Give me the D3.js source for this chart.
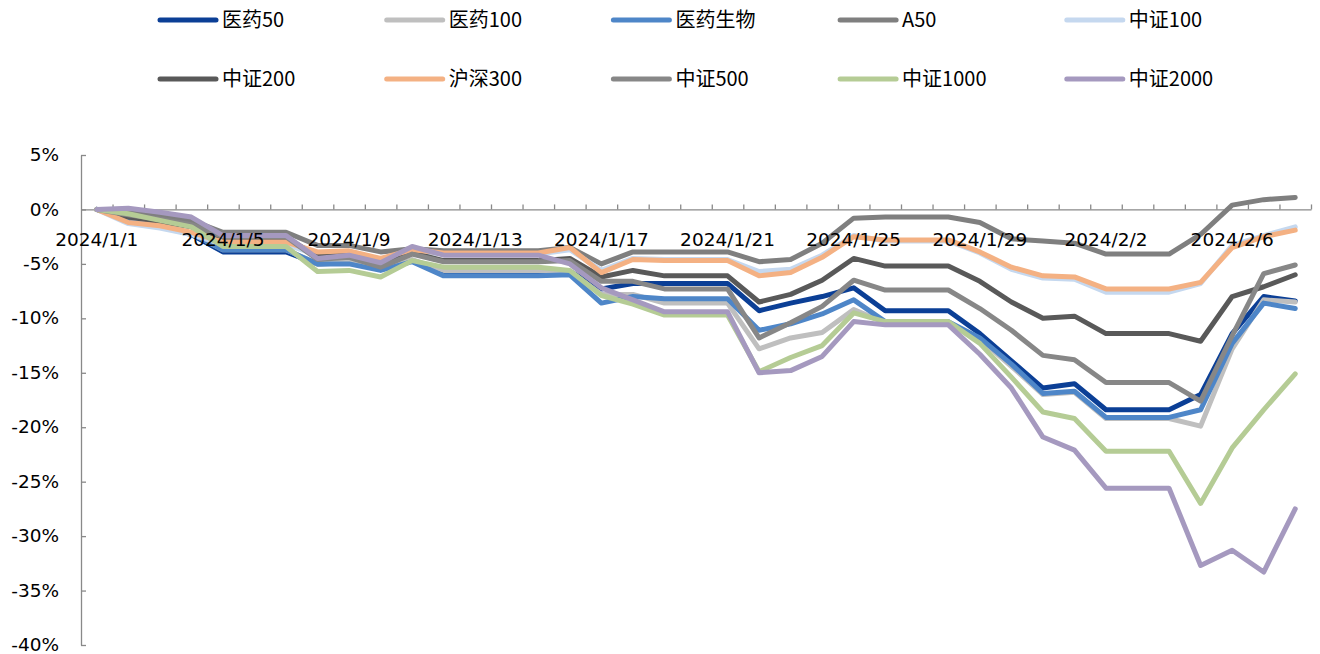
<!DOCTYPE html>
<html>
<head>
<meta charset="utf-8">
<script src="https://cdn.jsdelivr.net/npm/d3@7"></script>
<style>
  body { margin: 0; background: #fff; }
  svg { display: block; }
  .axis path, .axis line { stroke: #898989; stroke-width: 1.3; }
  .axis text { font-family: "DejaVu Sans", Verdana, sans-serif; font-size: 18.5px; fill: #000; }
  .legend text { font-family: "Noto Sans CJK SC", sans-serif; font-size: 20px; fill: #000; }
</style>
</head>
<body>
<svg id="chart" width="1320" height="654"></svg>
<script>
"use strict";

// ==========================
// data
// ==========================
var dates = ["2024/1/1","2024/1/2","2024/1/3","2024/1/4","2024/1/5","2024/1/6","2024/1/7","2024/1/8","2024/1/9","2024/1/10",
  "2024/1/11","2024/1/12","2024/1/13","2024/1/14","2024/1/15","2024/1/16","2024/1/17","2024/1/18","2024/1/19","2024/1/20",
  "2024/1/21","2024/1/22","2024/1/23","2024/1/24","2024/1/25","2024/1/26","2024/1/27","2024/1/28","2024/1/29","2024/1/30",
  "2024/1/31","2024/2/1","2024/2/2","2024/2/3","2024/2/4","2024/2/5","2024/2/6","2024/2/7","2024/2/8"];

var seriesNames = ["医药50","医药100","医药生物","A50","中证100","中证200","沪深300","中证500","中证1000","中证2000"];
var seriesColors = ["#0b3f96","#bfbfbf","#4e86c8","#7f7f7f","#c5d8ef","#595959","#f4b183","#878787","#b5cc95","#a599bf"];

var yy50 = [0,-1.0,-1.5,-2.3,-3.9,-3.9,-3.9,-5.0,-4.9,-5.5,-4.7,-5.8,-5.8,-5.8,-5.8,-5.7,-7.3,-6.8,-6.8,-6.8,
  -6.8,-9.3,-8.6,-8.0,-7.2,-9.3,-9.3,-9.3,-11.4,-13.9,-16.4,-16.0,-18.4,-18.4,-18.4,-17.0,-11.4,-8.0,-8.4];
var yy100 = [0,-1.0,-1.5,-2.2,-3.7,-3.7,-3.7,-5.0,-4.8,-5.5,-4.6,-5.6,-5.6,-5.6,-5.6,-5.7,-7.8,-7.8,-8.6,-8.6,
  -8.6,-12.8,-11.8,-11.3,-9.2,-10.4,-10.4,-10.4,-11.9,-14.4,-17.0,-16.8,-19.2,-19.2,-19.2,-19.9,-12.8,-8.3,-8.5];
var yysw = [0,-1.0,-1.5,-2.2,-3.7,-3.7,-3.7,-5.0,-5.0,-5.6,-4.8,-6.1,-6.1,-6.1,-6.1,-6.0,-8.6,-8.0,-8.2,-8.2,
  -8.2,-11.1,-10.5,-9.6,-8.3,-10.3,-10.3,-10.3,-11.8,-14.2,-16.9,-16.7,-19.1,-19.1,-19.1,-18.4,-12.3,-8.6,-9.1];
var a50 = [0,-0.3,-0.6,-1.0,-2.1,-2.1,-2.1,-3.3,-3.3,-3.9,-3.6,-3.8,-3.8,-3.8,-3.8,-3.5,-5.0,-3.9,-3.9,-3.9,
  -3.9,-4.8,-4.6,-3.1,-0.8,-0.7,-0.7,-0.7,-1.2,-2.7,-2.9,-3.1,-4.1,-4.1,-4.1,-2.3,0.4,0.9,1.1];
var zz100 = [0,-1.3,-1.7,-2.3,-3.2,-3.2,-3.2,-4.2,-4.0,-4.6,-3.8,-4.1,-4.1,-4.1,-4.1,-3.7,-5.6,-4.5,-4.6,-4.6,
  -4.6,-5.7,-5.5,-4.2,-2.4,-2.9,-2.9,-2.9,-4.0,-5.5,-6.3,-6.4,-7.6,-7.6,-7.6,-6.8,-3.3,-2.4,-1.6];
var zz200 = [0,-0.7,-1.1,-1.6,-2.6,-2.6,-2.6,-4.3,-4.1,-5.0,-4.0,-4.7,-4.7,-4.7,-4.7,-4.5,-6.2,-5.6,-6.1,-6.1,
  -6.1,-8.5,-7.8,-6.5,-4.5,-5.2,-5.2,-5.2,-6.6,-8.5,-10.0,-9.8,-11.4,-11.4,-11.4,-12.1,-8.0,-7.1,-6.0];
var hs300 = [0,-1.2,-1.5,-2.1,-3.0,-3.0,-3.0,-3.9,-3.8,-4.5,-3.7,-4.0,-4.0,-4.0,-4.0,-3.5,-5.8,-4.6,-4.7,-4.7,
  -4.7,-6.1,-5.8,-4.4,-2.5,-2.8,-2.8,-2.8,-3.9,-5.3,-6.1,-6.2,-7.3,-7.3,-7.3,-6.7,-3.5,-2.5,-1.9];
var zz500 = [0,-0.5,-0.9,-1.4,-2.5,-2.5,-2.5,-4.6,-4.4,-5.3,-4.1,-4.8,-4.8,-4.8,-4.8,-4.7,-6.6,-6.6,-7.3,-7.3,
  -7.3,-11.8,-10.4,-8.9,-6.5,-7.4,-7.4,-7.4,-9.1,-11.1,-13.4,-13.8,-15.9,-15.9,-15.9,-17.6,-11.6,-5.9,-5.1];
var zz1000 = [0,-0.4,-1.0,-1.6,-3.4,-3.4,-3.4,-5.7,-5.6,-6.2,-4.7,-5.3,-5.3,-5.3,-5.3,-5.6,-7.9,-8.7,-9.7,-9.7,
  -9.7,-14.9,-13.6,-12.5,-9.5,-10.3,-10.3,-10.3,-12.3,-15.4,-18.6,-19.2,-22.2,-22.2,-22.2,-27.0,-21.9,-18.4,-15.1];
var zz2000 = [0,0.1,-0.25,-0.7,-2.4,-2.4,-2.4,-4.5,-4.2,-4.9,-3.4,-4.2,-4.2,-4.2,-4.2,-5.0,-7.2,-8.3,-9.4,-9.4,
  -9.4,-15.0,-14.8,-13.5,-10.3,-10.6,-10.6,-10.6,-13.3,-16.4,-20.9,-22.1,-25.6,-25.6,-25.6,-32.7,-31.3,-33.3,-27.5];

var seriesValues = [yy50, yy100, yysw, a50, zz100, zz200, hs300, zz500, zz1000, zz2000];
var yTicks = [5,0,-5,-10,-15,-20,-25,-30,-35,-40];
var xLabelDates = dates.filter(function (d, i) { return i % 4 === 0; });

// ==========================
// chart
// ==========================
var svg = d3.select("#chart"),
    plotLeft = 81, plotRight = 1311, plotTop = 155, plotBottom = 645;

var x = d3.scaleBand().domain(dates).range([plotLeft, plotRight]),
    y = d3.scaleLinear().domain([-40, 5]).range([plotBottom, plotTop]);
var xEdge = d3.scaleLinear().domain([0, dates.length]).range([plotLeft, plotRight]);

// y axis: ticks to the right, labels on the left
svg.append("g").attr("class", "axis")
  .attr("transform", "translate(" + plotLeft + ",0)")
  .call(d3.axisLeft(y).tickValues(yTicks).tickSizeInner(-5).tickSizeOuter(0).tickPadding(22)
    .tickFormat(function (d) { return d + "%"; }))
  .call(function (g) { g.selectAll("text").attr("dy", "0.3em"); });

// x axis at 0%: tick marks between categories, pointing up
var y0 = y(0);
svg.append("g").attr("class", "axis")
  .attr("transform", "translate(0," + y0 + ")")
  .call(d3.axisTop(xEdge).tickValues(d3.range(1, dates.length + 1)).tickSizeInner(5).tickSizeOuter(0).tickFormat(""));

// lines
var line = d3.line()
  .x(function (d, i) { return x(dates[i]) + x.bandwidth() / 2; })
  .y(function (d) { return y(d); });

svg.append("g").selectAll("path").data(seriesValues).enter().append("path")
  .attr("d", line)
  .attr("fill", "none")
  .attr("stroke", function (d, i) { return seriesColors[i]; })
  .attr("stroke-width", 5)
  .attr("stroke-linejoin", "round")
  .attr("stroke-linecap", "round");

// x labels every 4 days, centered on the date, drawn over the lines
svg.append("g").attr("class", "axis")
  .attr("transform", "translate(0," + y0 + ")")
  .call(d3.axisBottom(x).tickValues(xLabelDates).tickSize(0).tickPadding(30))
  .call(function (g) { g.select(".domain").remove(); g.selectAll("text").attr("dy", "0.35em"); });

// ==========================
// legend
// ==========================
var legend = svg.append("g").attr("class", "legend")
  .selectAll("g").data(seriesNames).enter().append("g")
  .attr("transform", function (d, i) {
    return "translate(" + (160 + (i % 5) * 226.7) + "," + (i < 5 ? 20 : 79) + ")";
  });

legend.append("line")
  .attr("x1", 0).attr("x2", 56).attr("y1", 0).attr("y2", 0)
  .attr("stroke", function (d, i) { return seriesColors[i]; })
  .attr("stroke-width", 5)
  .attr("stroke-linecap", "round");

legend.append("text")
  .attr("x", 62).attr("y", 0).attr("dy", "0.35em")
  .text(function (d) { return d; });
</script>
</body>
</html>
